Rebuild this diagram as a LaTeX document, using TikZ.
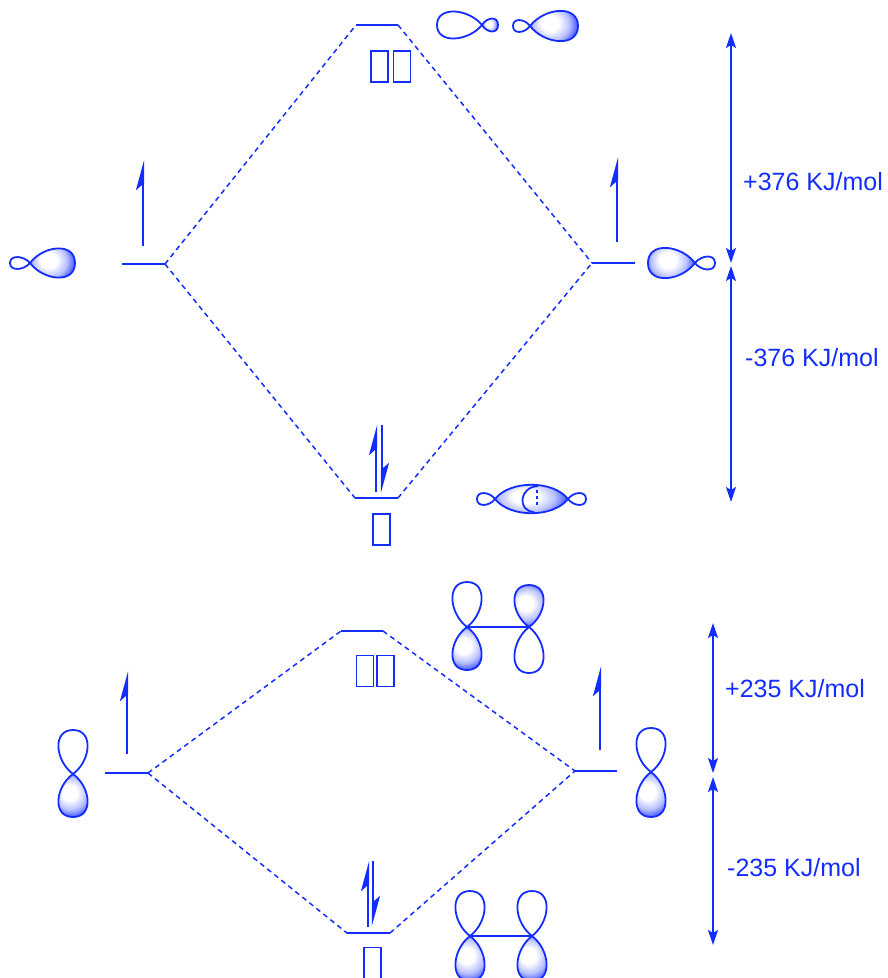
\documentclass[tikz,border=0pt]{standalone}
\usepackage{fontspec}
\newfontfamily\lblfont{Liberation Sans}
\usetikzlibrary{arrows.meta}
\definecolor{mo}{RGB}{20,45,255}
% soft highlight used for the shaded orbital lobes
\pgfdeclareradialshading{lobeshade}{\pgfpoint{-5bp}{4bp}}{%
  color(0bp)=(white); color(9bp)=(white); color(19bp)=(mo!30);
  color(27bp)=(mo!80); color(50bp)=(mo)}
% one orbital lobe: node x, node y, direction, length, width, style
\newcommand\moLobe[6]{%
  \begin{scope}[shift={(#1,#2)}, rotate=#3]
    \path[#6] (0,0) .. controls (0.3*#4,0.66*#5) and (#4,0.78*#5) .. (#4,0)
      .. controls (#4,-0.78*#5) and (0.3*#4,-0.66*#5) .. (0,0);
  \end{scope}}
\tikzset{
  shadedlobe/.style={draw=mo, line width=1.8pt, shading=lobeshade},
  openlobe/.style={draw=mo, line width=1.8pt, fill=white},
  level/.style={draw=mo, line width=2.4pt},
  link/.style={draw=mo, line width=1.5pt, dash pattern=on 5pt off 4pt},
  spin/.style={draw=mo, line width=2.2pt,
    -{Stealth[left, length=26pt, width=14pt, inset=6pt]}},
  gap/.style={draw=mo, line width=1.8pt,
    {Stealth[length=15pt, width=10pt, inset=3pt]}-{Stealth[length=15pt, width=10pt, inset=3pt]}},
  symbox/.style={draw=mo, line width=1.8pt, minimum width=17pt,
    minimum height=31pt, inner sep=0pt},
  energy/.style={text=mo, anchor=west, inner sep=0pt,
    font=\lblfont\fontsize{25}{29}\selectfont},
  bond/.style={draw=mo, line width=2pt}
}
\begin{document}
\begin{tikzpicture}[x=1pt, y=-1pt]
\useasboundingbox (0,0) rectangle (887,978);
\clip (0,0) rectangle (887,978);

% ---------------- sigma interaction ----------------
\coordinate (A1) at (122,264); \coordinate (A2) at (165,264);
\coordinate (B1) at (592,263); \coordinate (B2) at (635,263);
\coordinate (S1) at (356,25);  \coordinate (S2) at (398,25);
\coordinate (T1) at (355,498); \coordinate (T2) at (398,498);

\draw[level] (A1) -- (A2);
\draw[level] (B1) -- (B2);
\draw[level] (S1) -- (S2);
\draw[level] (T1) -- (T2);

\draw[link] (A2) -- (S1);
\draw[link] (S2) -- (B1);
\draw[link] (A2) -- (T1);
\draw[link] (T2) -- (B1);

% unpaired and paired electrons
\coordinate (ea0) at (143,246); \coordinate (ea1) at (143,160);
\coordinate (eb0) at (617,242); \coordinate (eb1) at (617,157);
\coordinate (ec0) at (376,492); \coordinate (ec1) at (376,425);
\coordinate (ed0) at (382,425); \coordinate (ed1) at (382,493);
\draw[spin] (ea0) -- (ea1);
\draw[spin] (eb0) -- (eb1);
\draw[spin] (ec0) -- (ec1);
\draw[spin] (ed0) -- (ed1);

% level symbols
\node[symbox] (sa1) at (379.5,66.5) {};
\node[symbox] (sa2) at (402,66.5) {};
\node[symbox] (sb1) at (381.5,529.5) {};

% atomic sp-type orbitals
\moLobe{30}{263}{180}{20}{11}{openlobe}
\moLobe{30}{263}{0}{45}{27}{shadedlobe}
\moLobe{695}{263}{0}{20}{12}{openlobe}
\moLobe{695}{263}{180}{47}{28}{shadedlobe}

% antibonding combination
\moLobe{482}{25}{180}{45}{25}{openlobe}
\moLobe{482}{25}{0}{16}{12}{shadedlobe}
\moLobe{530}{26}{180}{17}{11}{openlobe}
\moLobe{530}{26}{0}{48}{28}{shadedlobe}

% bonding combination
\moLobe{495}{499}{180}{18}{11}{openlobe}
\moLobe{568}{499}{0}{18}{11}{openlobe}
\path[shadedlobe] (495,499) .. controls (510,480) and (553,480) .. (568,499)
  .. controls (553,518) and (510,518) .. (495,499);
\draw[mo, line width=1.8pt] (538,486) .. controls (519,487) and (517,511) .. (534,512);
\draw[mo, line width=1.2pt, dash pattern=on 3pt off 3pt] (537,490) -- (537,507);

% energy gaps
\coordinate (E1) at (731,33);  \coordinate (E2) at (731,263);
\coordinate (E3) at (731,266); \coordinate (E4) at (731,502);
\draw[gap] (E1) -- (E2);
\draw[gap] (E3) -- (E4);
\node[energy] (g1) at (743,182) {+376 KJ/mol};
\node[energy] (g2) at (745,358) {-376 KJ/mol};

% ---------------- pi interaction ----------------
\coordinate (C1) at (105,773); \coordinate (C2) at (148,773);
\coordinate (D1) at (575,771); \coordinate (D2) at (617,771);
\coordinate (P1) at (341,631); \coordinate (P2) at (383,631);
\coordinate (Q1) at (347,933); \coordinate (Q2) at (390,933);

\draw[level] (C1) -- (C2);
\draw[level] (D1) -- (D2);
\draw[level] (P1) -- (P2);
\draw[level] (Q1) -- (Q2);

\draw[link] (C2) -- (P1);
\draw[link] (P2) -- (D1);
\draw[link] (C2) -- (Q1);
\draw[link] (Q2) -- (D1);

\coordinate (ee0) at (127,754); \coordinate (ee1) at (127,671);
\coordinate (ef0) at (600,750); \coordinate (ef1) at (600,666);
\coordinate (eg0) at (368,927); \coordinate (eg1) at (368,861);
\coordinate (eh0) at (373,861); \coordinate (eh1) at (373,926);
\draw[spin] (ee0) -- (ee1);
\draw[spin] (ef0) -- (ef1);
\draw[spin] (eg0) -- (eg1);
\draw[spin] (eh0) -- (eh1);

\node[symbox] (sc1) at (365,671) {};
\node[symbox] (sc2) at (385.5,671) {};
\node[symbox] (sd1) at (372.5,963) {};

% atomic p orbitals
\moLobe{73}{774}{90}{44}{27}{openlobe}
\moLobe{73}{774}{-90}{43}{27}{shadedlobe}
\moLobe{651}{772}{90}{44}{27}{openlobe}
\moLobe{651}{772}{-90}{45}{27}{shadedlobe}

% antibonding pi combination
\coordinate (pa) at (467,627); \coordinate (pb) at (529,627);
\draw[bond] (pa) -- (pb);
\moLobe{467}{627}{90}{45}{27}{openlobe}
\moLobe{467}{627}{-90}{43}{27}{shadedlobe}
\moLobe{529}{627}{90}{42}{27}{shadedlobe}
\moLobe{529}{627}{-90}{46}{27}{openlobe}

% bonding pi combination
\coordinate (qa) at (470,936); \coordinate (qb) at (532,936);
\draw[bond] (qa) -- (qb);
\moLobe{470}{936}{90}{45}{27}{openlobe}
\moLobe{470}{936}{-90}{45}{27}{shadedlobe}
\moLobe{532}{936}{90}{45}{27}{openlobe}
\moLobe{532}{936}{-90}{45}{27}{shadedlobe}

\coordinate (F1) at (713,623); \coordinate (F2) at (713,773);
\coordinate (F3) at (713,777); \coordinate (F4) at (713,945);
\draw[gap] (F1) -- (F2);
\draw[gap] (F3) -- (F4);
\node[energy] (g3) at (725,689) {+235 KJ/mol};
\node[energy] (g4) at (727,868) {-235 KJ/mol};
\end{tikzpicture}
\end{document}
